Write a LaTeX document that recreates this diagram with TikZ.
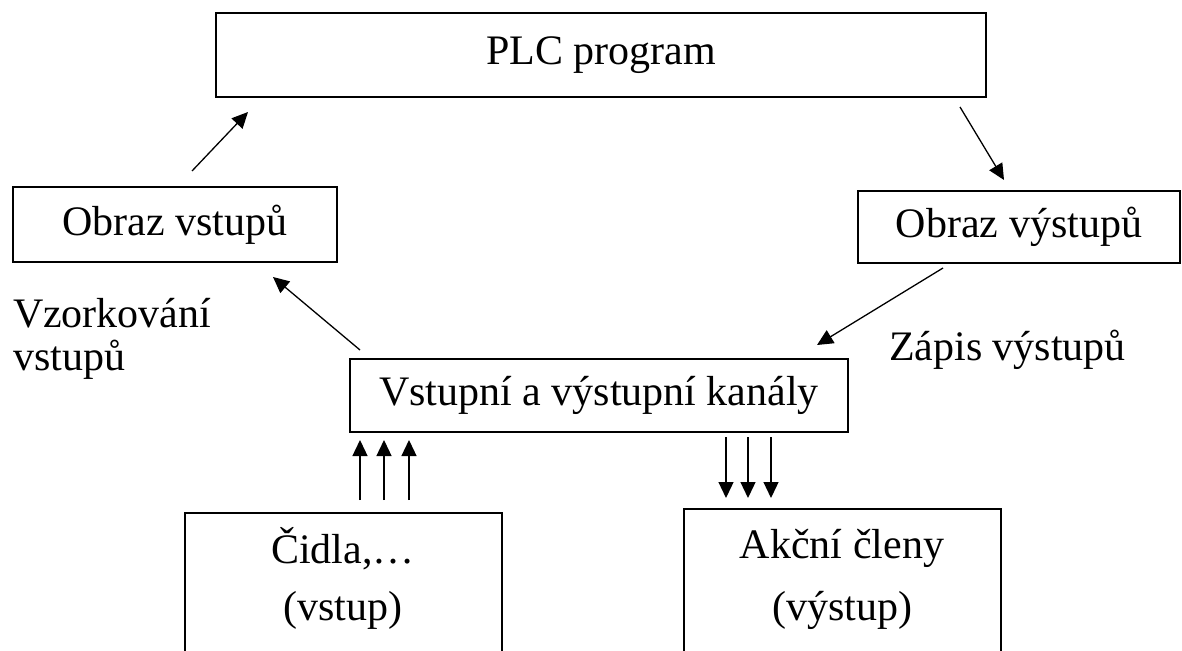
\documentclass[tikz,border=0pt]{standalone}
\usepackage{fontspec}
\setmainfont{Liberation Serif}
\usetikzlibrary{arrows.meta}
\tikzset{
  box/.style={draw=black, line width=2.5pt, inner sep=0pt, outer sep=0pt, rectangle, font=\fontsize{42}{50}\selectfont},
  lbl/.style={inner sep=0pt, outer sep=0pt, font=\fontsize{42}{50}\selectfont},
  arr/.style={line width=1.3pt, -{Triangle[length=16pt,width=15pt]}}
}
\begin{document}
\begin{tikzpicture}[x=1pt,y=-1pt]
\useasboundingbox (0,0) rectangle (1182,650);
\clip (0,0) rectangle (1182,650);
\fill[white] (0,0) rectangle (1182,650);
% boxes
\node[box, minimum width=770pt, minimum height=84pt] (plc) at (601,55) {PLC program};
\node[box, minimum width=324pt, minimum height=75pt] (ov) at (175,224.5) {Obraz vstupů};
\node[box, minimum width=322pt, minimum height=72pt] (ovy) at (1019,227) {Obraz výstupů};
\node[box, minimum width=498pt, minimum height=73pt] (kan) at (599,395.5) {Vstupní a výstupní kanály};
\node[box, minimum width=317pt, minimum height=200pt] (cid) at (343.5,613) {};
\node[box, minimum width=317pt, minimum height=200pt] (akc) at (842.5,609) {};
% labels
\node[lbl, anchor=base west] (vz1) at (13,327) {Vzorkování};
\node[lbl, anchor=base west] (vz2) at (13,370) {vstupů};
\node[lbl, anchor=base west] (zap) at (889,360) {Zápis výstupů};
\node[lbl, anchor=base] (c1) at (343,563) {Čidla,…};
\node[lbl, anchor=base] (c2) at (343,620) {(vstup)};
\node[lbl, anchor=base] (a1) at (842,558) {Akční členy};
\node[lbl, anchor=base] (a2) at (842,620) {(výstup)};
% connectors
\draw[arr] ([shift={(179,-16)}]ov.north west) -- ([shift={(32,15)}]plc.south west);
\draw[arr] ([shift={(-26,10)}]plc.south east) -- ([shift={(146,-11)}]ovy.north west);
\draw[arr] ([shift={(10,-9)}]kan.north west) -- ([shift={(-64,15)}]ov.south east);
\draw[arr] ([shift={(85,5)}]ovy.south west) -- ([shift={(-31,-14)}]kan.north east);
\foreach \a/\b in {175/10, 199/34, 224/59}
  \draw[arr] ([shift={(\a,-13)}]cid.north west) -- ([shift={(\b,8)}]kan.south west);
\foreach \a/\b in {376/42, 398/64, 421/87}
  \draw[arr] ([shift={(\a,5)}]kan.south west) -- ([shift={(\b,-11)}]akc.north west);
\end{tikzpicture}
\end{document}
